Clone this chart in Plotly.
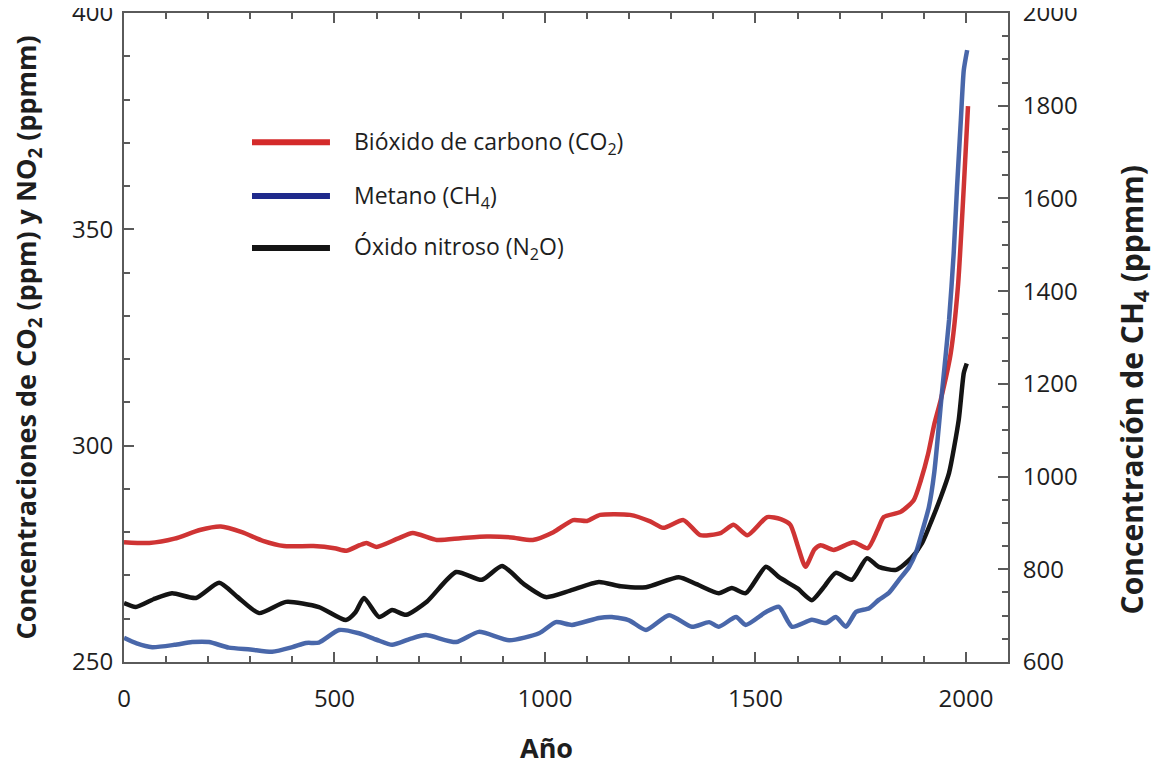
import plotly.graph_objects as go

# ---- data ----
co2_years = [0, 60, 120, 180, 230, 280, 330, 380, 450, 500, 528, 560, 576, 600, 650, 686, 743, 800, 862, 920,
             971, 1020, 1067, 1100, 1131, 1202, 1250, 1281, 1329, 1369, 1417, 1448, 1481, 1528, 1560, 1583,
             1600, 1619, 1640, 1655, 1686, 1733, 1767, 1790, 1805, 1845, 1876, 1893, 1910, 1925, 1940, 1964,
             1981, 1995, 2005]
co2_ppm = [277.7, 277.5, 278.5, 280.5, 281.3, 280.0, 278.0, 276.8, 276.8, 276.3, 275.7, 277.0, 277.5, 276.6,
           278.5, 279.8, 278.2, 278.6, 279.0, 278.8, 278.2, 280.0, 282.8, 282.6, 284.0, 284.0, 282.5, 281.0,
           282.8, 279.3, 279.8, 281.7, 279.3, 283.5, 283.0, 281.7, 277.0, 272.0, 276.0, 277.0, 275.9, 277.7,
           276.3, 280.5, 283.5, 284.7, 287.4, 292.0, 298.0, 305.0, 310.5, 321.4, 336.7, 359.8, 378.5]

ch4_years = [0, 30, 67, 120, 162, 202, 249, 300, 352, 400, 432, 463, 511, 558, 600, 637, 680, 717, 789, 843,
             915, 986, 1026, 1064, 1128, 1159, 1200, 1240, 1295, 1349, 1390, 1413, 1454, 1477, 1525, 1556,
             1587, 1634, 1667, 1691, 1715, 1739, 1770, 1793, 1817, 1841, 1865, 1881, 1895, 1912, 1925, 1943,
             1960, 1971, 1979, 1988, 1995, 2003]
ch4_ppb = [652, 640, 632, 637, 643, 643, 631, 627, 622, 632, 641, 642, 669, 662, 648, 637, 650, 658, 643, 665,
           647, 662, 686, 680, 695, 697, 690, 669, 701, 676, 686, 676, 697, 680, 708, 719, 676, 691, 684, 697,
           676, 708, 716, 734, 749, 777, 805, 835, 878, 934, 1010, 1180, 1338, 1482, 1625, 1769, 1877, 1920]

n2o_years = [0, 28, 70, 114, 171, 226, 270, 321, 385, 463, 527, 550, 570, 606, 637, 670, 720, 789, 850, 898,
             950, 1002, 1060, 1128, 1180, 1240, 1318, 1360, 1413, 1444, 1477, 1525, 1556, 1600, 1634, 1660,
             1691, 1729, 1765, 1793, 1834, 1870, 1896, 1919, 1940, 1960, 1983, 1995, 2002]
n2o_ppb = [263.6, 262.7, 264.5, 265.9, 264.8, 268.3, 265.0, 261.3, 263.9, 262.7, 259.7, 261.5, 264.8, 260.4,
           262.0, 260.9, 264.0, 270.8, 269.0, 272.2, 268.0, 265.0, 266.5, 268.5, 267.5, 267.3, 269.6, 268.0,
           265.9, 267.1, 265.9, 272.0, 269.6, 267.0, 264.3, 267.0, 270.6, 269.0, 274.0, 272.0, 271.3, 274.0,
           277.5, 282.8, 288.0, 293.7, 306.0, 316.8, 319.0]

x_ticks = [0, 500, 1000, 1500, 2000]
y_ticks = [250, 300, 350, 400]
y2_ticks = [600, 800, 1000, 1200, 1400, 1600, 1800, 2000]

series_names = ["Bióxido de carbono (CO<sub>2</sub>)", "Metano (CH<sub>4</sub>)", "Óxido nitroso (N<sub>2</sub>O)"]
line_colors = ["#cf3434", "#3a5ba3", "#141414"]
legend_colors = ["#d42a2a", "#1f2a8c", "#141414"]

x_title = "Año"
y_title = "Concentraciones de CO<sub>2</sub> (ppm) y NO<sub>2</sub> (ppmm)"
y2_title = "Concentración de CH<sub>4</sub> (ppmm)"

FONT = "Open Sans"
TXT = "#1e1e1e"
AX = "#5a5a5a"

fig = go.Figure()
fig.add_trace(go.Scatter(x=co2_years, y=co2_ppm, mode="lines", name=series_names[0],
                         line=dict(color=line_colors[0], width=4.5, shape="spline", smoothing=0.6),
                         showlegend=False))
fig.add_trace(go.Scatter(x=n2o_years, y=n2o_ppb, mode="lines", name=series_names[2],
                         line=dict(color=line_colors[2], width=4.5, shape="spline", smoothing=0.6),
                         showlegend=False))
fig.add_trace(go.Scatter(x=ch4_years, y=ch4_ppb, mode="lines", name=series_names[1], yaxis="y2",
                         line=dict(color=line_colors[1], width=4.5, shape="spline", smoothing=0.6),
                         opacity=0.92, showlegend=False))

axis_common = dict(showgrid=False, zeroline=False, showline=True, linecolor=AX, linewidth=2,
                   ticks="inside", tickcolor=AX, tickwidth=2, ticklabeloverflow="allow",
                   tickfont=dict(family=FONT, size=24, color=TXT))

# the page body adds an 8px offset, so the figure is sized/margined to compensate
fig.update_layout(
    width=1153, height=756,
    margin=dict(l=116, r=153, t=5, b=102, autoexpand=False),
    paper_bgcolor="white", plot_bgcolor="white",
    xaxis=dict(range=[0, 2100], tickvals=x_ticks, ticklen=10,
               mirror="ticks", ticklabelstandoff=14, automargin=False,
               minor=dict(dtick=100, tick0=0, ticks="inside", ticklen=6, tickcolor=AX, tickwidth=2),
               **axis_common),
    yaxis=dict(range=[250, 400], tickvals=y_ticks, ticklen=10, ticklabelstandoff=4, automargin=False,
               minor=dict(dtick=10, tick0=250, ticks="inside", ticklen=6, tickcolor=AX, tickwidth=2),
               **axis_common),
    yaxis2=dict(range=[600, 2000], overlaying="y", side="right", ticklen=10, ticklabelstandoff=8,
                tickvals=y2_ticks, automargin=False,
                minor=dict(dtick=50, tick0=600, ticks="inside", ticklen=6, tickcolor=AX, tickwidth=2),
                **axis_common),
)

title_font = dict(family=FONT, size=27, color=TXT, weight="bold")
fig.add_annotation(text=x_title, xref="paper", yref="paper", x=0.4785, y=-0.1325,
                   showarrow=False, xanchor="center", yanchor="middle", font=title_font)
fig.add_annotation(text=y_title, xref="paper", yref="paper", x=-0.1086, y=0.5, textangle=-90,
                   showarrow=False, xanchor="center", yanchor="middle", font=title_font)
fig.add_annotation(text=y2_title, xref="paper", yref="paper", x=1.1414, y=0.42, textangle=-90,
                   showarrow=False, xanchor="center", yanchor="middle",
                   font=dict(family=FONT, size=30, color=TXT, weight="bold"))

# hand-drawn legend inside the plot
legend_rows_y = [0.801, 0.718, 0.638]
for name, col, yy in zip(series_names, legend_colors, legend_rows_y):
    fig.add_shape(type="line", xref="paper", yref="paper", x0=0.1448, x1=0.233, y0=yy, y1=yy,
                  line=dict(color=col, width=6))
    fig.add_annotation(text=name, xref="paper", yref="paper", x=0.258, y=yy, xanchor="left",
                       yanchor="middle", showarrow=False,
                       font=dict(family=FONT, size=23, color=TXT))

fig.write_html("out.html")
